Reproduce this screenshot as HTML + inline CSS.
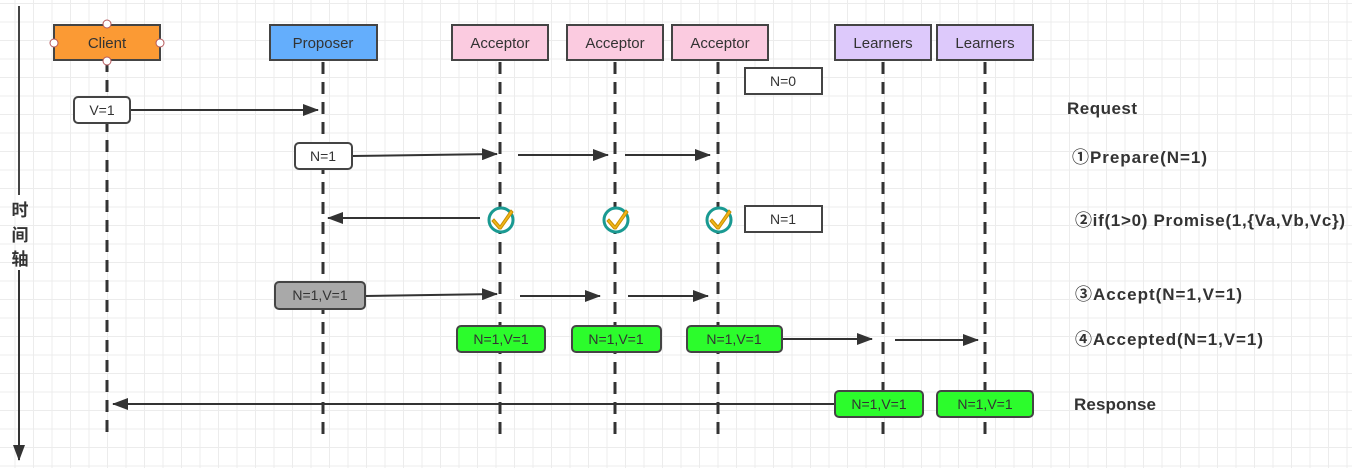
<!DOCTYPE html>
<html><head><meta charset="utf-8"><style>
html,body{margin:0;padding:0;}
body{width:1352px;height:468px;overflow:hidden;background:#fff;
background-image:linear-gradient(#ececec 1px,transparent 1px),linear-gradient(90deg,#ececec 1px,transparent 1px);
background-size:18.5px 18.5px;background-position:-4px 3px;}
svg{position:absolute;left:0;top:0;font-family:"Liberation Sans","Noto Sans CJK SC",sans-serif;}
</style></head><body>
<svg width="1352" height="468" viewBox="0 0 1352 468">
<defs><marker id="a" markerWidth="16" markerHeight="12" refX="15" refY="6" orient="auto" markerUnits="userSpaceOnUse"><path d="M0,0 L16,6 L0,12 z" fill="#333"/></marker></defs>
<g stroke="#333" stroke-width="3" stroke-dasharray="12,8">
<line x1="107" y1="60" x2="107" y2="440"/><line x1="323" y1="62" x2="323" y2="440"/>
<line x1="500" y1="62" x2="500" y2="440"/><line x1="615" y1="62" x2="615" y2="440"/>
<line x1="718" y1="62" x2="718" y2="440"/><line x1="883" y1="62" x2="883" y2="440"/>
<line x1="985" y1="62" x2="985" y2="440"/></g>
<g stroke="#444" stroke-width="2">
<rect x="54" y="25" width="106" height="35" fill="#fb9a34"/>
<rect x="270" y="25" width="107" height="35" fill="#64aefc"/>
<rect x="452" y="25" width="96" height="35" fill="#fbcbe0"/>
<rect x="567" y="25" width="96" height="35" fill="#fbcbe0"/>
<rect x="672" y="25" width="96" height="35" fill="#fbcbe0"/>
<rect x="835" y="25" width="96" height="35" fill="#ddc9fb"/>
<rect x="937" y="25" width="96" height="35" fill="#ddc9fb"/>
</g>
<g fill="#fff" stroke="#b5585a" stroke-width="1"><circle cx="107" cy="24" r="4"/><circle cx="107" cy="61" r="4"/><circle cx="54" cy="43" r="4"/><circle cx="160" cy="43" r="4"/></g>
<g font-size="15" text-anchor="middle" fill="#333">
<text x="107" y="48">Client</text><text x="323" y="48">Proposer</text>
<text x="500" y="48">Acceptor</text><text x="615" y="48">Acceptor</text><text x="720" y="48">Acceptor</text>
<text x="883" y="48">Learners</text><text x="985" y="48">Learners</text></g>
<g stroke="#333" stroke-width="2" marker-end="url(#a)">
<line x1="130" y1="110" x2="318" y2="110"/>
<line x1="352" y1="156" x2="497" y2="154"/><line x1="518" y1="155" x2="608" y2="155"/><line x1="625" y1="155" x2="710" y2="155"/>
<line x1="480" y1="218" x2="328" y2="218"/>
<line x1="365" y1="296" x2="497" y2="294"/><line x1="520" y1="296" x2="600" y2="296"/><line x1="628" y1="296" x2="708" y2="296"/>
<line x1="782" y1="339" x2="872" y2="339"/><line x1="895" y1="340" x2="978" y2="340"/>
<line x1="835" y1="404" x2="113" y2="404"/>
<line x1="19" y1="270" x2="19" y2="460"/>
</g>
<line x1="19" y1="6" x2="19" y2="195" stroke="#444" stroke-width="2"/>
<g font-size="17" font-weight="bold" fill="#333" text-anchor="middle"><text x="20" y="216">时</text><text x="20" y="241">间</text><text x="20" y="265">轴</text></g>
<g stroke="#444" stroke-width="2">
<rect x="74" y="97" width="56" height="26" rx="4" fill="#fff"/>
<rect x="295" y="143" width="57" height="26" rx="4" fill="#fff"/>
<rect x="745" y="68" width="77" height="26" fill="#fff"/>
<rect x="745" y="206" width="77" height="26" fill="#fff"/>
<rect x="275" y="282" width="90" height="27" rx="4" fill="#a9a9a9"/>
<rect x="457" y="326" width="88" height="26" rx="4" fill="#2cfc2c"/>
<rect x="572" y="326" width="89" height="26" rx="4" fill="#2cfc2c"/>
<rect x="687" y="326" width="95" height="26" rx="4" fill="#2cfc2c"/>
<rect x="835" y="391" width="88" height="26" rx="4" fill="#2cfc2c"/>
<rect x="937" y="391" width="96" height="26" rx="4" fill="#2cfc2c"/>
</g>
<g font-size="14" fill="#333" text-anchor="middle">
<text x="102" y="115">V=1</text><text x="323" y="161">N=1</text>
<text x="783" y="86">N=0</text><text x="783" y="224">N=1</text>
<text x="320" y="300">N=1,V=1</text>
<text x="501" y="344">N=1,V=1</text><text x="616" y="344">N=1,V=1</text><text x="734" y="344">N=1,V=1</text>
<text x="879" y="409">N=1,V=1</text><text x="985" y="409">N=1,V=1</text></g>
<g>
<g transform="translate(501,220)"><circle r="12" fill="#fff" stroke="#1a9a92" stroke-width="3"/><path d="M-7,-1 L-1,6 L10,-10 L12,-8 L0,9 L-2,9 L-9,1z" fill="#f2b619" stroke="#c98f00" stroke-width="1"/></g>
<g transform="translate(616,220)"><circle r="12" fill="#fff" stroke="#1a9a92" stroke-width="3"/><path d="M-7,-1 L-1,6 L10,-10 L12,-8 L0,9 L-2,9 L-9,1z" fill="#f2b619" stroke="#c98f00" stroke-width="1"/></g>
<g transform="translate(719,220)"><circle r="12" fill="#fff" stroke="#1a9a92" stroke-width="3"/><path d="M-7,-1 L-1,6 L10,-10 L12,-8 L0,9 L-2,9 L-9,1z" fill="#f2b619" stroke="#c98f00" stroke-width="1"/></g>
</g>
<g font-size="17" font-weight="bold" fill="#333">
<text x="1067" y="114" textLength="70">Request</text>
<text x="1072" y="163" textLength="135">①Prepare(N=1)</text>
<text x="1075" y="226" textLength="270">②if(1&gt;0) Promise(1,{Va,Vb,Vc})</text>
<text x="1075" y="300" textLength="167">③Accept(N=1,V=1)</text>
<text x="1075" y="345" textLength="188">④Accepted(N=1,V=1)</text>
<text x="1074" y="410" textLength="82">Response</text>
</g>
</svg>
</body></html>
